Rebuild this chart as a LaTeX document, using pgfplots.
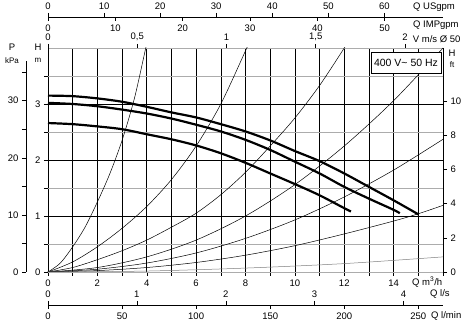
\documentclass[border=0pt]{standalone}
\usepackage{fontspec}
\setmainfont{Liberation Sans}
\usepackage{pgfplots}
\pgfplotsset{compat=1.18}
\pgfplotsset{
  every axis/.append style={
    scale only axis, enlargelimits=false,
    tick label style={font=\fontsize{9.5}{11}\selectfont},
    /pgf/number format/assume math mode=true,
    major tick length=4pt, minor tick length=4pt,
    tick style={black, line width=0.5pt},
    axis line style={black, line width=0.6pt},
  },
  secx/.style={width=395pt, height=10pt, ymin=0, ymax=1, hide y axis,
    tick align=outside, xmin=0},
}
\begin{document}
\begin{tikzpicture}[font=\fontsize{9.5}{11}\selectfont]
\useasboundingbox (-48pt,-57pt) rectangle (423pt,272pt);
% main axis
\begin{axis}[at={(0pt,0pt)}, anchor=south west, width=395pt, height=224pt,
  xmin=0, xmax=16, ymin=0, ymax=4,
  xtick={0,1,...,16}, xticklabels={0,,2,,4,,6,,8,,10,,12,,14,,},
  ytick={1,2,3},
  extra y ticks={0,0.5,1.5,2.5,3.5}, extra y tick labels={0,,,,},
  extra y tick style={grid=major, major grid style={gray!65, line width=0.6pt}},
  xmajorgrids, ymajorgrids, major grid style={black, line width=0.6pt},
  tick align=outside, xtick pos=bottom, ytick pos=left,
  separate axis lines,
  x axis line style={gray!65, line width=0.6pt},
  y axis line style={black, line width=0.8pt},
]
% system curves
\addplot[black, line width=0.5pt, smooth] coordinates {(0,0)(0.5,0.16)(1,0.45)(1.5,0.8)(2,1.25)(2.5,1.75)(3,2.35)(3.5,3.1)(3.96,4.0)(4.1,4.25)};
\addplot[black, line width=0.5pt, smooth] coordinates {(0,0)(1,0.18)(2,0.45)(3,0.78)(4,1.17)(5,1.65)(6,2.25)(7,3.0)(8,3.95)(8.2,4.15)};
\addplot[black, line width=0.5pt, smooth] coordinates {(0,0)(1,0.08)(2,0.22)(3,0.38)(4,0.57)(5,0.8)(6,1.05)(7,1.38)(8,1.78)(9,2.25)(10,2.75)(11,3.33)(12,4.0)(12.2,4.15)};
\addplot[black, line width=0.5pt, smooth] coordinates {(0,0)(2,0.08)(4,0.27)(6,0.57)(8,1.0)(10,1.56)(12,2.25)(14,3.06)(16,4.0)};
\addplot[black, line width=0.5pt, smooth] coordinates {(0,0)(2,0.05)(4,0.16)(6,0.34)(8,0.6)(10,0.93)(12,1.34)(14,1.82)(16,2.37)};
\addplot[black, line width=0.5pt, smooth] coordinates {(0,0)(2,0.025)(4,0.08)(6,0.17)(8,0.3)(10,0.47)(12,0.68)(14,0.91)(15,1.04)(16,1.19)};
\addplot[gray, line width=0.5pt, smooth] coordinates {(0,0)(4,0.017)(8,0.07)(12,0.15)(16,0.27)};
% pump curves
\addplot[black, line width=2.2pt, smooth] coordinates {(0,3.15)(1,3.14)(2,3.1)(3,3.04)(4,2.95)(5,2.85)(6,2.76)(7,2.64)(8,2.51)(9,2.35)(10,2.16)(11,1.98)(12,1.76)(13,1.52)(14,1.28)(15,1.03)};
\addplot[black, line width=2.2pt, smooth] coordinates {(0,3.02)(1,3.0)(2,2.96)(3,2.9)(4,2.83)(5,2.74)(6,2.63)(7,2.51)(8,2.36)(9,2.18)(10,1.97)(11,1.76)(12,1.52)(13,1.31)(14,1.11)(14.25,1.05)};
\addplot[black, line width=2.2pt, smooth] coordinates {(0,2.66)(1,2.64)(2,2.6)(3,2.55)(4,2.46)(5,2.37)(6,2.26)(7,2.12)(8,1.95)(9,1.76)(10,1.57)(11,1.37)(12,1.14)(12.27,1.08)};
\end{axis}
% right ft axis
\begin{axis}[at={(0pt,0pt)}, anchor=south west, width=395pt, height=224pt,
  hide x axis, axis y line*=right, xmin=0, xmax=1, ymin=0, ymax=13.1234,
  ytick={0,2,...,10}, tick align=outside, axis line style={draw=none}]
\end{axis}
% left kPa axis
\begin{axis}[at={(-22pt,0pt)}, anchor=south west, width=10pt, height=211.3pt,
  hide x axis, axis y line*=left, xmin=0, xmax=1, ymin=0, ymax=37,
  ytick={0,10,20,30}, minor ytick={5,15,25,35}, tick align=outside]
\end{axis}
% V m/s axis
\begin{axis}[at={(0pt,224pt)}, anchor=north west, secx, axis x line*=top,
  xmax=2.213, xtick={0,0.5,1,1.5,2}, xticklabels={0,{0,5},1,{1,5},2},
  axis line style={draw=none}]
\end{axis}
% USgpm
\begin{axis}[at={(0pt,255pt)}, anchor=north west, secx, axis x line*=top,
  xmax=70.448, xtick={0,10,...,60}]
\end{axis}
% IMPgpm
\begin{axis}[at={(0pt,255pt)}, anchor=south west, secx, axis x line*=bottom,
  xmax=58.66, xtick={0,10,...,50}]
\end{axis}
% l/s
\begin{axis}[at={(0pt,-33pt)}, anchor=north west, secx, axis x line*=top,
  xmax=4.4444, xtick={0,1,...,4}]
\end{axis}
% l/min
\begin{axis}[at={(0pt,-33pt)}, anchor=south west, secx, axis x line*=bottom,
  xmax=266.667, xtick={0,50,...,250}]
\end{axis}
% unit labels
\node[anchor=west, inner sep=0pt] at (365pt,265pt) {Q USgpm};
\node[anchor=west, inner sep=0pt] at (365pt,247pt) {Q IMPgpm};
\node[anchor=west, inner sep=0pt] at (364.7pt,233pt) {V m/s Ø 50};
\node[inner sep=0pt] at (404pt,219pt) {H};
\node[inner sep=0pt, font=\fontsize{8}{9}\selectfont] at (404pt,207pt) {ft};
\node[inner sep=0pt] at (-36pt,225pt) {P};
\node[inner sep=0pt, font=\fontsize{8}{9}\selectfont] at (-36pt,211pt) {kPa};
\node[inner sep=0pt] at (-10pt,225pt) {H};
\node[inner sep=0pt, font=\fontsize{8}{9}\selectfont] at (-10pt,212pt) {m};
\node[anchor=west, inner sep=0pt] at (364pt,-10pt) {Q m\textsuperscript{3}/h};
\node[anchor=west, inner sep=0pt] at (382pt,-21.5pt) {Q l/s};
\node[anchor=west, inner sep=0pt] at (383pt,-44pt) {Q l/min};
\node[draw, line width=0.8pt, fill=white, inner sep=0pt, minimum width=70pt, minimum height=21pt, font=\fontsize{10.5}{12}\selectfont] at (358pt,209.5pt) {400 V\textasciitilde\ 50 Hz};
\end{tikzpicture}
\end{document}
